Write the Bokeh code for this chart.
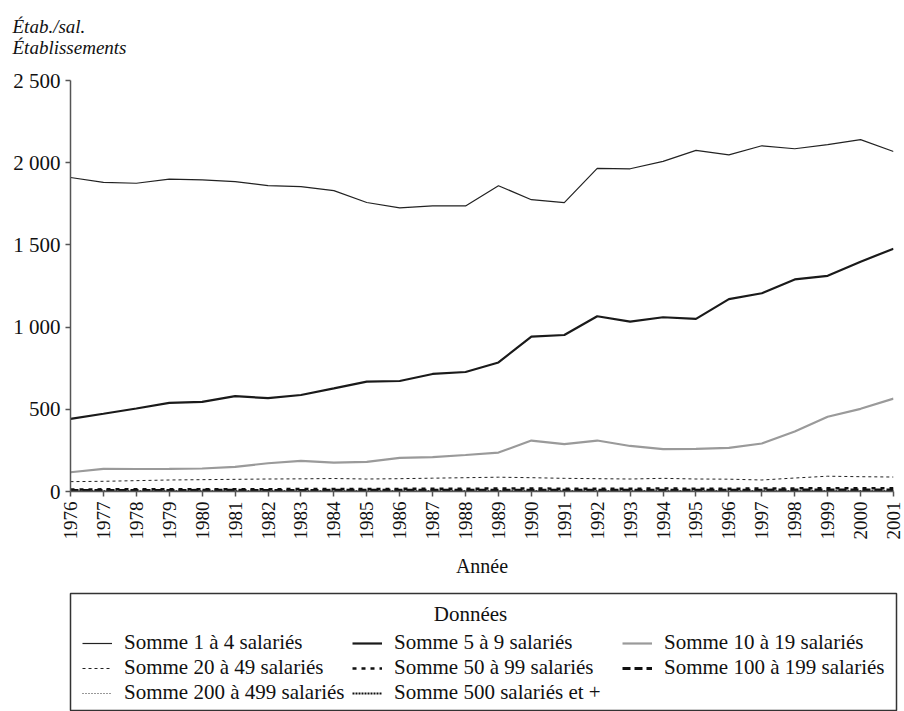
import math
from bokeh.plotting import figure
from bokeh.layouts import column
from bokeh.models import (FixedTicker, Legend, LegendItem, Title, Label, Range1d)
from bokeh.embed import file_html
from bokeh.resources import INLINE

years = list(range(1976, 2002))

s1_4 = [1910, 1880, 1875, 1900, 1895, 1885, 1860, 1855, 1830, 1758, 1725, 1737, 1737,
        1860, 1775, 1757, 1965, 1963, 2008, 2075, 2048, 2103, 2085, 2110, 2140, 2068]
s5_9 = [442, 473, 505, 539, 545, 580, 568, 587, 627, 668, 672, 715, 727,
        785, 942, 952, 1066, 1033, 1060, 1050, 1170, 1206, 1290, 1312, 1398, 1477]
s10_19 = [117, 138, 137, 138, 140, 150, 172, 186, 176, 180, 204, 209, 222,
          237, 310, 288, 310, 277, 258, 259, 265, 292, 365, 455, 503, 565]
s20_49 = [60, 62, 66, 70, 72, 74, 76, 77, 79, 76, 78, 81, 84,
          87, 84, 80, 78, 76, 80, 76, 75, 70, 82, 93, 90, 88]
s50_99 = [12, 13, 13, 14, 14, 14, 14, 15, 15, 15, 16, 16, 17,
          18, 18, 17, 17, 17, 18, 17, 17, 18, 19, 20, 20, 20]
s100_199 = [6, 6, 6, 6, 7, 7, 6, 6, 7, 7, 7, 7, 8,
            8, 8, 8, 8, 7, 8, 8, 8, 8, 9, 9, 9, 9]
s200_499 = [3, 3, 3, 3, 3, 3, 3, 3, 3, 3, 3, 3, 4,
            4, 4, 4, 4, 4, 4, 4, 4, 4, 4, 4, 5, 5]
s500 = [1, 1, 1, 1, 1, 1, 1, 1, 1, 1, 1, 1, 1,
        1, 1, 1, 1, 1, 1, 1, 1, 1, 1, 1, 1, 1]

series_names = ["Somme 1 à 4 salariés", "Somme 5 à 9 salariés", "Somme 10 à 19 salariés",
                "Somme 20 à 49 salariés", "Somme 50 à 99 salariés", "Somme 100 à 199 salariés",
                "Somme 200 à 499 salariés", "Somme 500 salariés et +"]
series_values = [s1_4, s5_9, s10_19, s20_49, s50_99, s100_199, s200_499, s500]

y_ticks = [0, 500, 1000, 1500, 2000, 2500]
y_tick_labels = ["0", "500", "1 000", "1 500", "2 000", "2 500"]
x_ticks = years
x_tick_labels = [str(y) for y in years]

title_lines = ["Étab./sal.", "Établissements"]
x_label = "Année"
legend_title = "Données"

FONT = "Liberation Serif"
TXT = "#111111"

styles = [
    dict(color="#222222", width=1.2, dash="solid"),
    dict(color="#1a1a1a", width=2.2, dash="solid"),
    dict(color="#9a9a9a", width=2.2, dash="solid"),
    dict(color="#222222", width=1.0, dash="3 3"),
    dict(color="#111111", width=2.5, dash="4 5"),
    dict(color="#111111", width=3.0, dash="8 4"),
    dict(color="#333333", width=1.0, dash="1 2"),
    dict(color="#111111", width=2.0, dash="2 1"),
]

# ---------------- main chart ----------------
p = figure(width=904, height=580, output_backend="svg", toolbar_location=None,
           x_range=Range1d(1976, 2001), y_range=Range1d(0, 2500),
           min_border_left=70, min_border_right=11, min_border_top=80,
           min_border_bottom=89, frame_width=823, frame_height=411)
p.outline_line_color = None
p.xgrid.visible = False
p.ygrid.visible = False

for name, vals, st in zip(series_names, series_values, styles):
    p.line(years, vals, line_color=st["color"], line_width=st["width"],
           line_dash=st["dash"])

for ax in (p.xaxis[0], p.yaxis[0]):
    ax.axis_line_color = "#555555"
    ax.axis_line_width = 1.5
    ax.major_tick_line_color = "#555555"
    ax.major_tick_line_width = 1.5
    ax.major_tick_out = 5
    ax.major_tick_in = 0
    ax.minor_tick_line_color = None
    ax.major_label_text_font = FONT
    ax.major_label_text_color = TXT

p.yaxis[0].ticker = FixedTicker(ticks=y_ticks)
p.yaxis[0].major_label_overrides = {t: l for t, l in zip(y_ticks, y_tick_labels)}
p.yaxis[0].major_label_text_font_size = "21px"
p.yaxis[0].major_label_standoff = 5

p.xaxis[0].ticker = FixedTicker(ticks=x_ticks)
p.xaxis[0].major_label_overrides = {t: l for t, l in zip(x_ticks, x_tick_labels)}
p.xaxis[0].major_label_orientation = math.pi / 2
p.xaxis[0].major_label_text_font_size = "19px"
p.xaxis[0].major_label_standoff = 5
p.xaxis[0].axis_label = x_label
p.xaxis[0].axis_label_text_font = FONT
p.xaxis[0].axis_label_text_font_style = "normal"
p.xaxis[0].axis_label_text_font_size = "20px"
p.xaxis[0].axis_label_text_color = TXT
p.xaxis[0].axis_label_standoff = 12

# spacer panel between frame and the two-line heading (first added = nearest frame)
spacer = Title(text=" ", align="left", standoff=0, text_font=FONT,
               text_font_size="19px", text_color=TXT)
p.add_layout(spacer, "above")
title = Title(text="\n".join(title_lines), align="left", offset=-58, standoff=0,
              vertical_align="bottom",
              text_font=FONT, text_font_style="italic", text_font_size="19px",
              text_color=TXT)
p.add_layout(title, "above")

# ---------------- legend panel ----------------
q = figure(width=904, height=131, output_backend="svg", toolbar_location=None,
           x_axis_location=None, y_axis_location=None,
           x_range=Range1d(1976, 2001), y_range=Range1d(-2, -1),
           min_border_left=70, min_border_right=8, min_border_top=13,
           min_border_bottom=0, frame_width=826, frame_height=118)
q.xgrid.visible = False
q.ygrid.visible = False
q.outline_line_color = "#333333"
q.outline_line_width = 1.5

# one-point proxies (draw nothing) that carry each series' style for the legend
proxies = []
for vals, st in zip(series_values, styles):
    proxies.append(q.line(x=years[:1], y=vals[:1], line_color=st["color"],
                          line_width=st["width"], line_dash=st["dash"]))

q.add_layout(Label(x=400, y=98, x_units="screen", y_units="screen", text=legend_title,
                   text_align="center", text_baseline="middle", text_font=FONT,
                   text_font_size="21px", text_color=TXT))

items = [LegendItem(label=n, renderers=[r]) for n, r in zip(series_names, proxies)]
legend = Legend(items=items, orientation="horizontal", ncols=3,
                location=(12, 6), padding=0, spacing=0, margin=0,
                glyph_width=30, glyph_height=24, label_height=24,
                label_width=228, label_standoff=12,
                label_text_font=FONT, label_text_font_size="21px",
                label_text_color=TXT,
                border_line_color=None, background_fill_alpha=0)
q.add_layout(legend, "center")

layout = column(p, q, spacing=0)
open("out.html", "w").write(file_html(layout, INLINE))
